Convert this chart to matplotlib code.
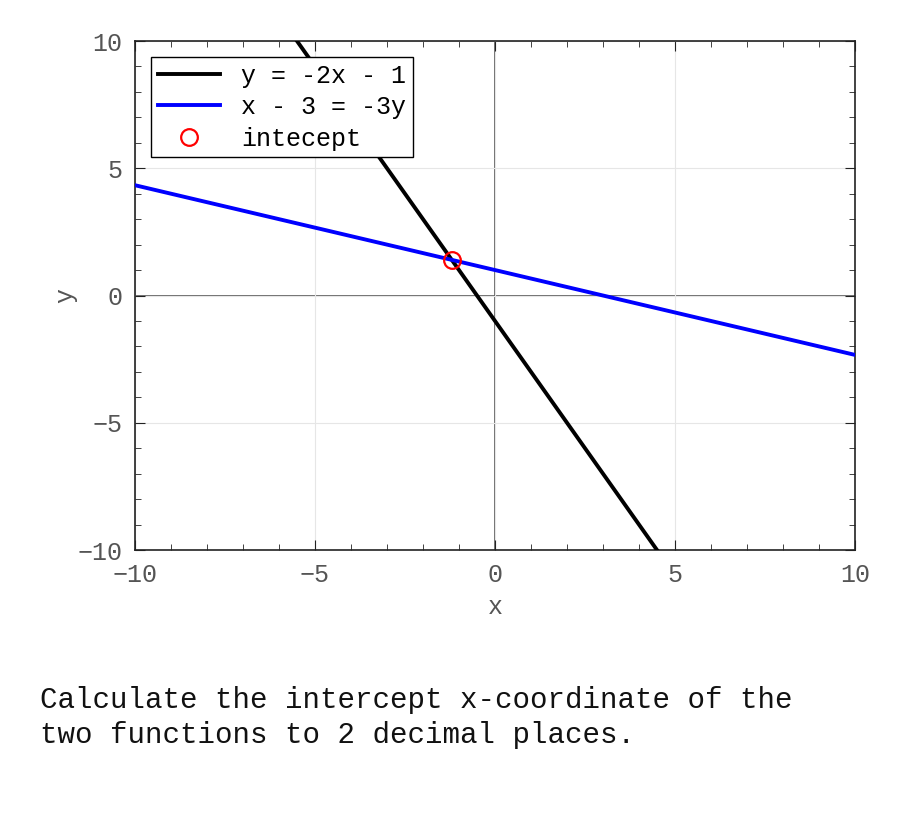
import numpy as np
import matplotlib.pyplot as plt
from matplotlib.ticker import MultipleLocator

# Data
x_vals = np.array([-10.0, 10.0])
line1_y = -2 * x_vals - 1          # y = -2x - 1
line2_y = (3 - x_vals) / 3         # x - 3 = -3y
intercept_x = [-1.2]
intercept_y = [1.4]

question = ("Calculate the intercept x-coordinate of the\n"
            "two functions to 2 decimal places.")

plt.rcParams["font.family"] = ["Liberation Mono", "DejaVu Sans Mono"]

fig = plt.figure(figsize=(9, 8.25), dpi=100)
ax = fig.add_axes([0.15, 0.3333, 0.80, 0.617])

ax.axhline(0, color="#555555", lw=1.2, zorder=1)
ax.axvline(0, color="#555555", lw=1.2, zorder=1)

ax.plot(x_vals, line1_y, color="black", lw=2.8, label="y = -2x - 1", zorder=3)
ax.plot(x_vals, line2_y, color="#0000ff", lw=2.8, label="x - 3 = -3y", zorder=3)
ax.plot(intercept_x, intercept_y, "o", mfc="none", mec="red", ms=12, mew=1.6,
        label="intecept", zorder=4)

ax.set_xlim(-10, 10)
ax.set_ylim(-10, 10)
ax.xaxis.set_major_locator(MultipleLocator(5))
ax.yaxis.set_major_locator(MultipleLocator(5))
ax.xaxis.set_minor_locator(MultipleLocator(1))
ax.yaxis.set_minor_locator(MultipleLocator(1))
ax.grid(True, which="major", color="#e6e6e6", lw=0.8, zorder=0)
ax.tick_params(which="both", direction="in", top=True, right=True,
               labelsize=18, labelcolor="#555555", color="#222222", pad=9)
ax.tick_params(which="major", length=7)
ax.tick_params(which="minor", length=4)
for s in ax.spines.values():
    s.set_color("#222222")
    s.set_linewidth(1.2)

ax.set_xlabel("x", fontsize=18, color="#555555", labelpad=6)
ax.set_ylabel("y", fontsize=18, color="#555555", labelpad=0)

leg = ax.legend(loc="upper left", fontsize=18, handlelength=2.5,
                handletextpad=0.85, fancybox=False, framealpha=1,
                edgecolor="black", borderaxespad=0.65, borderpad=0.25,
                labelspacing=0.3)
leg.get_frame().set_linewidth(1.0)

fig.text(0.044, 0.092, question, fontsize=21, va="bottom", ha="left",
         linespacing=1.32, color="#111111")

fig.savefig("out.png", dpi=100)
